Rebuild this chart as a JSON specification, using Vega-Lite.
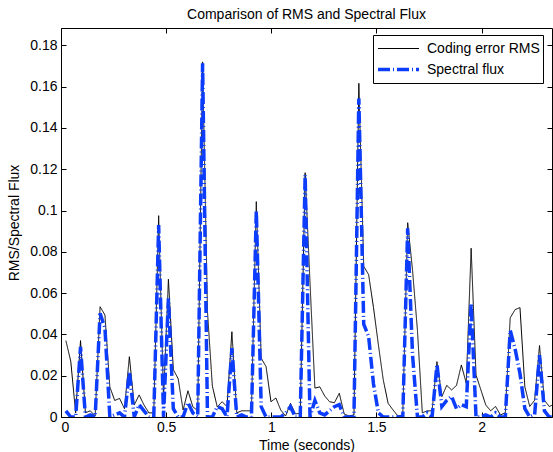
{
  "$schema": "https://vega.github.io/schema/vega-lite/v6.json",
  "width": 491,
  "height": 389,
  "autosize": {"type": "none"},
  "padding": {"left": 61, "top": 28, "right": 1, "bottom": 35},
  "background": "white",
  "title": {"text": "Comparison of RMS and Spectral Flux", "font": "Liberation Sans", "fontSize": 14, "fontWeight": "normal", "color": "black", "anchor": "middle", "offset": 6},
  "config": {
    "view": {"stroke": "black", "strokeWidth": 1},
    "axis": {"grid": false, "domain": false, "tickColor": "black", "tickSize": -5, "tickWidth": 1, "labelFont": "Liberation Sans", "labelFontSize": 14, "labelColor": "black", "titleFont": "Liberation Sans", "titleFontSize": 14, "titleFontWeight": "normal", "titleColor": "black"}
  },
  "data": {"values": [
    {"t":0.0232,"rms":0.037,"flux":0.003},{"t":0.0464,"rms":0.027,"flux":0},{"t":0.0697,"rms":0.002,"flux":0},{"t":0.0929,"rms":0.037,"flux":0.034},{"t":0.1161,"rms":0.002,"flux":0},
    {"t":0.1393,"rms":0.003,"flux":0.001},{"t":0.1625,"rms":0.0005,"flux":0},{"t":0.1858,"rms":0.0534,"flux":0.0502},{"t":0.2090,"rms":0.0494,"flux":0.0431},{"t":0.2322,"rms":0.0146,"flux":0},
    {"t":0.2554,"rms":0.008,"flux":0.001},{"t":0.2786,"rms":0.009,"flux":0.002},{"t":0.3019,"rms":0.004,"flux":0},{"t":0.3251,"rms":0.0292,"flux":0.0219},{"t":0.3483,"rms":0.0058,"flux":0},
    {"t":0.3715,"rms":0.0107,"flux":0.006},{"t":0.3947,"rms":0.0058,"flux":0.003},{"t":0.4180,"rms":0.002,"flux":0},{"t":0.4412,"rms":0.002,"flux":0},{"t":0.4644,"rms":0.0975,"flux":0.093},
    {"t":0.4876,"rms":0.009,"flux":0},{"t":0.5108,"rms":0.0667,"flux":0.0575},{"t":0.5341,"rms":0.023,"flux":0.004},{"t":0.5573,"rms":0.0185,"flux":0},{"t":0.5805,"rms":0.0034,"flux":0},
    {"t":0.6037,"rms":0.0127,"flux":0.007},{"t":0.6269,"rms":0.005,"flux":0.002},{"t":0.6502,"rms":0.003,"flux":0},{"t":0.6734,"rms":0.172,"flux":0.1713},{"t":0.6966,"rms":0.051,"flux":0},
    {"t":0.7198,"rms":0.015,"flux":0},{"t":0.7430,"rms":0.0049,"flux":0.005},{"t":0.7663,"rms":0.0074,"flux":0.004},{"t":0.7895,"rms":0.005,"flux":0},{"t":0.8127,"rms":0.0413,"flux":0.0333},
    {"t":0.8359,"rms":0.002,"flux":0},{"t":0.8591,"rms":0.003,"flux":0.001},{"t":0.8824,"rms":0.003,"flux":0},{"t":0.9056,"rms":0.003,"flux":0},{"t":0.9288,"rms":0.1043,"flux":0.1002},
    {"t":0.9520,"rms":0.0285,"flux":0.005},{"t":0.9752,"rms":0.0244,"flux":0},{"t":0.9985,"rms":0.0074,"flux":0},{"t":1.0217,"rms":0.0092,"flux":0},{"t":1.0449,"rms":0.0034,"flux":0},
    {"t":1.0681,"rms":0.0005,"flux":0.002},{"t":1.0913,"rms":0.0066,"flux":0.005},{"t":1.1146,"rms":0.0015,"flux":0},{"t":1.1378,"rms":0.0018,"flux":0},{"t":1.1610,"rms":0.1183,"flux":0.1172},
    {"t":1.1842,"rms":0.065,"flux":0},{"t":1.2074,"rms":0.014,"flux":0.008},{"t":1.2307,"rms":0.0146,"flux":0.002},{"t":1.2539,"rms":0.0102,"flux":0.001},{"t":1.2771,"rms":0.0074,"flux":0.003},
    {"t":1.3003,"rms":0.0069,"flux":0.005},{"t":1.3235,"rms":0.0115,"flux":0.006},{"t":1.3468,"rms":0.0014,"flux":0},{"t":1.3700,"rms":0.0005,"flux":0},{"t":1.3932,"rms":0.001,"flux":0},
    {"t":1.4164,"rms":0.1616,"flux":0.1543},{"t":1.4396,"rms":0.073,"flux":0.045},{"t":1.4629,"rms":0.069,"flux":0.039},{"t":1.4861,"rms":0.053,"flux":0.016},{"t":1.5093,"rms":0.035,"flux":0.002},
    {"t":1.5325,"rms":0.018,"flux":0},{"t":1.5557,"rms":0.0066,"flux":0},{"t":1.5790,"rms":0.0034,"flux":0},{"t":1.6022,"rms":0.0005,"flux":0},{"t":1.6254,"rms":0.001,"flux":0},
    {"t":1.6486,"rms":0.0941,"flux":0.0914},{"t":1.6718,"rms":0.071,"flux":0.03},{"t":1.6951,"rms":0.042,"flux":0},{"t":1.7183,"rms":0.002,"flux":0},{"t":1.7415,"rms":0.003,"flux":0.002},
    {"t":1.7647,"rms":0.003,"flux":0},{"t":1.7879,"rms":0.0268,"flux":0.0255},{"t":1.8112,"rms":0.0099,"flux":0.005},{"t":1.8344,"rms":0.0153,"flux":0.008},{"t":1.8576,"rms":0.0131,"flux":0.01},
    {"t":1.8808,"rms":0.0153,"flux":0.004},{"t":1.9040,"rms":0.0252,"flux":0.006},{"t":1.9273,"rms":0.0163,"flux":0.005},{"t":1.9505,"rms":0.0817,"flux":0.055},{"t":1.9737,"rms":0.0203,"flux":0},
    {"t":1.9969,"rms":0.0131,"flux":0},{"t":2.0201,"rms":0.0058,"flux":0.001},{"t":2.0434,"rms":0.003,"flux":0},{"t":2.0666,"rms":0.0051,"flux":0.002},{"t":2.0898,"rms":0.001,"flux":0},
    {"t":2.1130,"rms":0.002,"flux":0},{"t":2.1362,"rms":0.048,"flux":0.042},{"t":2.1595,"rms":0.052,"flux":0.033},{"t":2.1827,"rms":0.053,"flux":0.021},{"t":2.2059,"rms":0.0146,"flux":0.004},
    {"t":2.2291,"rms":0.0051,"flux":0},{"t":2.2523,"rms":0.0081,"flux":0.001},{"t":2.2756,"rms":0.0346,"flux":0.03},{"t":2.2988,"rms":0.0081,"flux":0.003},{"t":2.3220,"rms":0.0051,"flux":0},
    {"t":2.3452,"rms":0.0061,"flux":0}
  ]},
  "layer": [
    {
      "transform": [{"fold": ["rms", "flux"], "as": ["series", "v"]}],
      "mark": {"type": "line", "clip": true, "strokeCap": "butt", "strokeJoin": "miter"},
      "encoding": {
        "x": {"field": "t", "type": "quantitative", "scale": {"domain": [0, 2.335], "nice": false, "zero": false},
              "axis": {"orient": "bottom", "values": [0, 0.5, 1, 1.5, 2], "format": "~g", "title": "Time (seconds)", "labelPadding": 8, "titlePadding": 4}},
        "y": {"field": "v", "type": "quantitative", "scale": {"domain": [0, 0.1884], "nice": false},
              "axis": {"orient": "left", "values": [0, 0.02, 0.04, 0.06, 0.08, 0.1, 0.12, 0.14, 0.16, 0.18], "format": "~g", "title": "RMS/Spectral Flux", "labelPadding": 9, "titlePadding": 8}},
        "color": {"field": "series", "type": "nominal", "scale": {"domain": ["rms", "flux"], "range": ["#000000", "#0d3dfc"]},
                  "legend": {"title": null, "orient": "none", "legendX": 312, "legendY": 7, "symbolType": "stroke", "symbolSize": 1681, "clipHeight": 21, "rowPadding": 0, "padding": 3, "labelOffset": 6, "labelFont": "Liberation Sans", "labelFontSize": 14, "labelColor": "black", "strokeColor": "black", "fillColor": "white", "labelExpr": "datum.label == 'rms' ? 'Coding error RMS' : 'Spectral flux'"}},
        "strokeDash": {"field": "series", "type": "nominal", "scale": {"domain": ["rms", "flux"], "range": [[1, 0], [12, 3, 1, 3]]}},
        "strokeWidth": {"field": "series", "type": "ordinal", "scale": {"domain": ["rms", "flux"], "range": [1, 3.5]}}
      }
    },
    {
      "mark": {"type": "point", "opacity": 0},
      "encoding": {
        "x": {"field": "t", "type": "quantitative", "axis": {"orient": "top", "values": [0, 0.5, 1, 1.5, 2], "labels": false, "title": null}},
        "y": {"field": "rms", "type": "quantitative", "axis": {"orient": "right", "values": [0, 0.02, 0.04, 0.06, 0.08, 0.1, 0.12, 0.14, 0.16, 0.18], "labels": false, "title": null}}
      }
    }
  ],
  "resolve": {"axis": {"x": "independent", "y": "independent"}}
}
